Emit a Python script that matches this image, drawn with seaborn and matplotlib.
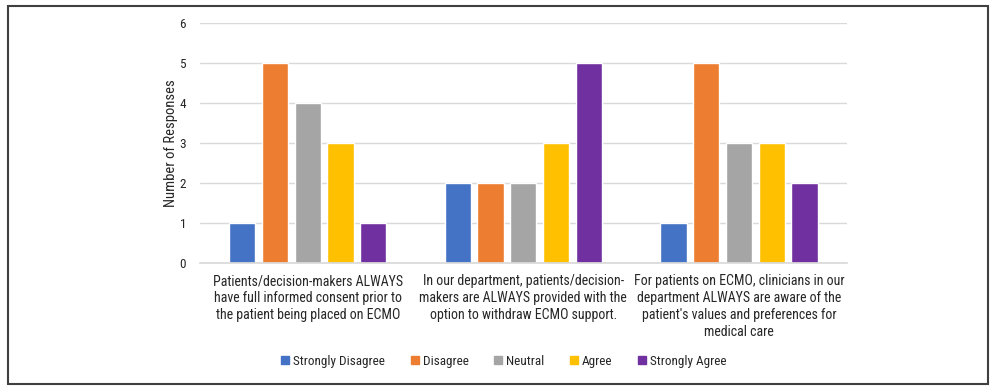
import matplotlib
matplotlib.use("Agg")
import matplotlib.pyplot as plt
import seaborn as sns
import pandas as pd
from matplotlib.patches import Rectangle
from matplotlib.lines import Line2D
from matplotlib import font_manager

categories = [
    "Patients/decision-makers ALWAYS\nhave full informed consent prior to\nthe patient being placed on ECMO",
    "In our department, patients/decision-\nmakers are ALWAYS provided with the\noption to withdraw ECMO support.",
    "For patients on ECMO, clinicians in our\ndepartment ALWAYS are aware of the\npatient's values and preferences for\nmedical care",
]
series = ["Strongly Disagree", "Disagree", "Neutral", "Agree", "Strongly Agree"]
strongly_disagree = [1, 2, 1]
disagree = [5, 2, 5]
neutral = [4, 2, 3]
agree = [3, 3, 3]
strongly_agree = [1, 5, 2]
colors = ["#4472C4", "#ED7D31", "#A5A5A5", "#FFC000", "#7030A0"]

values = [strongly_disagree, disagree, neutral, agree, strongly_agree]
rows = []
for s, vals in zip(series, values):
    for c, v in zip(categories, vals):
        rows.append({"category": c, "response": s, "count": v})
df = pd.DataFrame(rows)

sns.set_theme(style="white")
installed = {f.name for f in font_manager.fontManager.ttflist}
narrow = [n for n in ["Liberation Sans Narrow", "Roboto Condensed", "Open Sans Condensed",
                      "DejaVu Sans Condensed"] if n in installed]
plt.rcParams["font.family"] = narrow + ["Lato", "DejaVu Sans"]

fig = plt.figure(figsize=(9.95, 3.87), dpi=100)
ax = fig.add_axes([0.201, 0.320, 0.650, 0.620])

sns.barplot(data=df, x="category", y="count", hue="response", hue_order=series,
            order=categories, palette=colors, width=0.76, gap=0.2,
            saturation=1, ax=ax, legend=False)

ax.set_ylim(0, 6)
ax.set_yticks(range(0, 7))
ax.yaxis.grid(True, color="#D9D9D9", linewidth=1)
ax.set_axisbelow(True)
for side in ["top", "right", "left"]:
    ax.spines[side].set_visible(False)
ax.spines["bottom"].set_color("#D9D9D9")
ax.tick_params(axis="both", length=0, labelsize=9.5, colors="#262626")
ax.tick_params(axis="y", pad=10)
ax.tick_params(axis="x", pad=8)
ax.set_xlabel("")
ax.set_ylabel("Number of Responses", fontsize=10.5, color="#262626", labelpad=1)
for lbl in ax.get_xticklabels():
    lbl.set_fontsize(10)
    lbl.set_linespacing(1.25)

handles = [Line2D([0], [0], marker="s", linestyle="", markersize=6,
                  markerfacecolor=c, markeredgecolor=c) for c in colors]
fig.legend(handles, series, loc="center", bbox_to_anchor=(0.506, 0.067),
           ncol=5, frameon=False, fontsize=9.5, handlelength=0.7,
           handletextpad=0.25, columnspacing=1.9, labelcolor="#262626")

fig.add_artist(Rectangle((0.008, 0.008), 0.985, 0.977, transform=fig.transFigure,
                         fill=False, edgecolor="#404040", linewidth=1.5))

fig.savefig("out.png", dpi=100)
